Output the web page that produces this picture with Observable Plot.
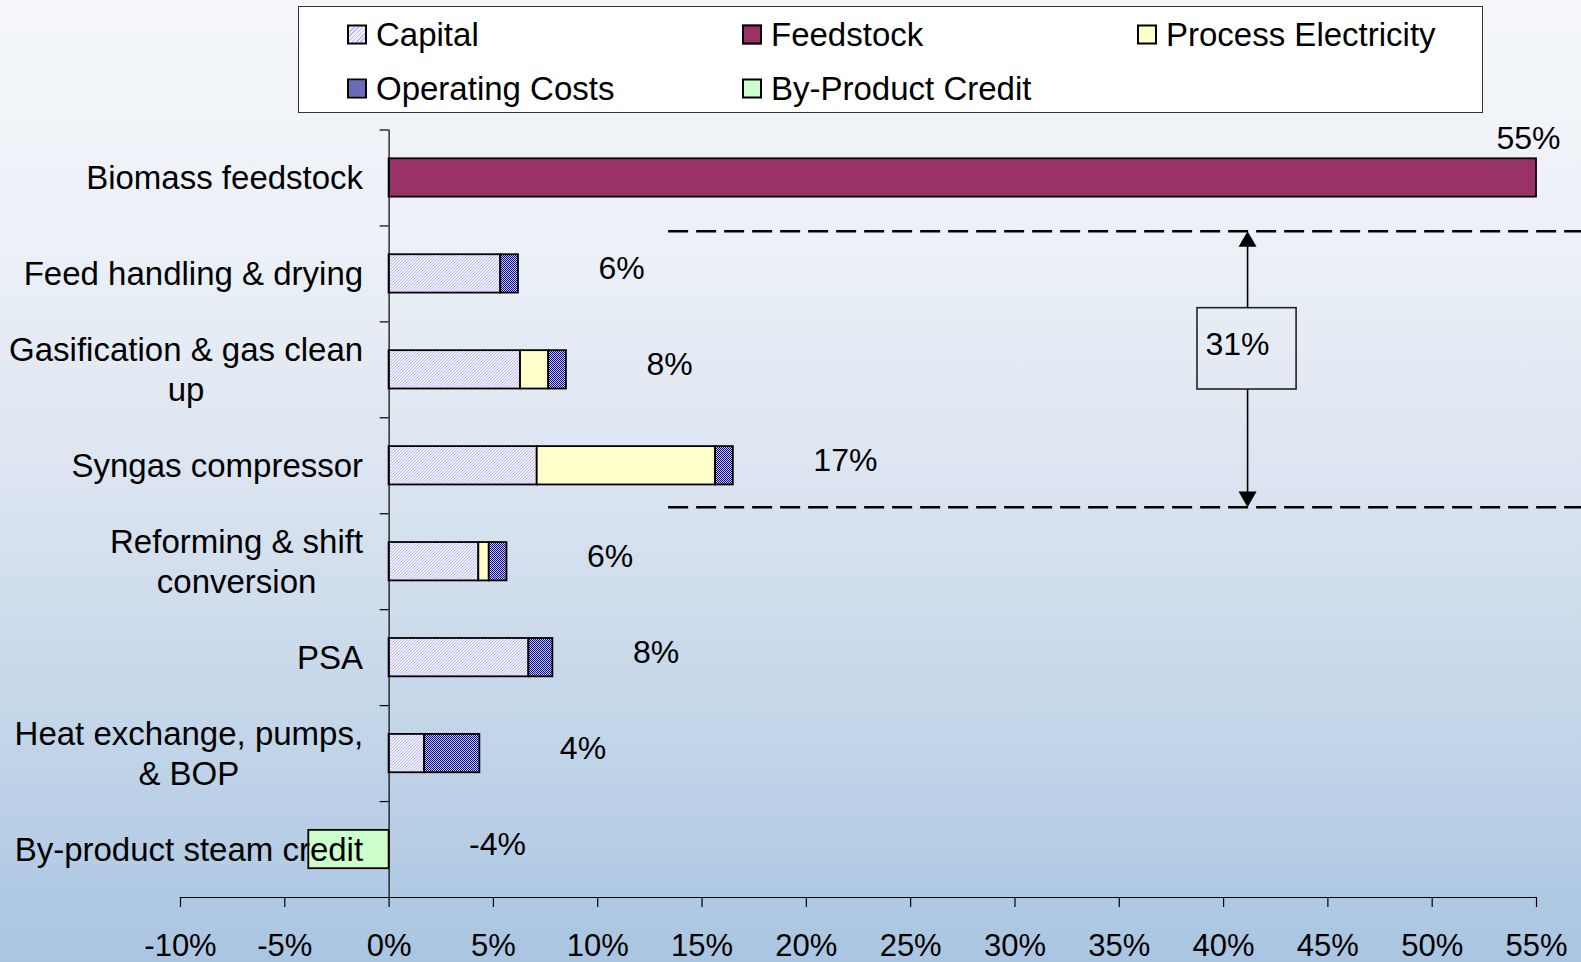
<!DOCTYPE html>
<html><head><meta charset="utf-8">
<script src="https://cdn.jsdelivr.net/npm/d3@7"></script>
<script src="https://cdn.jsdelivr.net/npm/@observablehq/plot@0.6"></script>
<style>
html,body{margin:0;padding:0;}
body{width:1581px;height:962px;overflow:hidden;background:linear-gradient(to bottom,#f4f6fa 0%,#ecf1f7 25%,#dbe4f0 50%,#c4d6e9 75%,#a9c5e1 100%);font-family:"Liberation Sans",Arial,sans-serif;}
#wrap{position:relative;width:1581px;height:962px;}
#chart{position:absolute;left:0;top:0;}
#legend{position:absolute;left:298px;top:6px;width:1185px;height:107px;background:#fff;border:1.5px solid #333;box-sizing:border-box;}
.item{position:absolute;display:flex;align-items:center;font-size:33px;line-height:1;transform:translateY(-50%);white-space:nowrap;color:#000;}
.sw{width:20px;height:20px;border:2px solid #000;margin-right:9px;box-sizing:border-box;}
</style></head><body>
<div id="wrap"><div id="chart"></div><div id="legend"></div></div>
<script>
// ---- data ----
const categories = ["Biomass feedstock", "Feed handling & drying", "Gasification & gas clean up", "Syngas compressor", "Reforming & shift conversion", "PSA", "Heat exchange, pumps, & BOP", "By-product steam credit"];
const categoryLabels = ["Biomass feedstock", "Feed handling & drying", "Gasification & gas clean\nup", "Syngas compressor", "Reforming & shift\nconversion", "PSA", "Heat exchange, pumps,\n& BOP", "By-product steam credit"];
const seriesNames = ["Capital", "Feedstock", "Process Electricity", "Operating Costs", "By-Product Credit"];
const capital     = [0, 5.35, 6.3, 7.1, 4.3, 6.7, 1.7, 0];
const feedstock   = [55, 0, 0, 0, 0, 0, 0, 0];
const electricity = [0, 0, 1.35, 8.55, 0.5, 0, 0, 0];
const operating   = [0, 0.85, 0.85, 0.85, 0.85, 1.15, 2.65, 0];
const credit      = [0, 0, 0, 0, 0, 0, 0, -3.85];
const shareLabels = ["55%", "6%", "8%", "17%", "6%", "8%", "4%", "-4%"];
const xTicks = [-10, -5, 0, 5, 10, 15, 20, 25, 30, 35, 40, 45, 50, 55];
const bracketShare = "31%";
const bracketX = 41.15;            // arrow position (% axis)
const bracketBox = [38.75, 43.5];  // box extent (% axis)
const bracketLine = [13.4, 57.3];  // dashed line extent (% axis)

// ---- layout / styles ----
const W = 1581, H = 962;
const mTop = 129.5, mBottom = 65, mLeft = 180, mRight = 45;
const bw = (H - mTop - mBottom) / categories.length;
const font = "'Liberation Sans', Arial, sans-serif";
const seriesFill = ["url(#capPat)", "#993366", "#ffffcc", "url(#opPat)", "#ccffcc"];
const seriesCss = [
  "repeating-linear-gradient(-45deg,#b8b8f4 0 1px,#f0f0ff 1px 3px)",
  "#993366", "#ffffcc",
  "conic-gradient(#0c0c80 25%,#c8c8fa 0 50%,#0c0c80 0 75%,#c8c8fa 0) 0 0/2px 2px",
  "#ccffcc"];

const rows = [];
const seriesValues = [capital, feedstock, electricity, operating, credit];
categories.forEach((c, i) => seriesNames.forEach((s, j) => {
  const v = seriesValues[j][i];
  if (v) rows.push({category: c, series: s, value: v});
}));
const totals = categories.map((c, i) => ({
  category: c,
  end: Math.max(0, capital[i] + feedstock[i] + electricity[i] + operating[i]),
  label: shareLabels[i]
}));

const ctx = document.createElement("canvas").getContext("2d");
ctx.font = "33px 'Liberation Sans'";
const labelWidth = (s) => Math.max(...s.split("\n").map(l => ctx.measureText(l).width));

const labelMarks = categories.map((c, i) => Plot.text([c], {
  x: () => 0, y: d => d, text: () => categoryLabels[i],
  textAnchor: "middle", dx: -(26 + labelWidth(categoryLabels[i]) / 2), dy: -1.5,
  lineHeight: 1.22, fontSize: 33, fill: "#000"
}));

const chart = Plot.plot({
  width: W, height: H,
  marginTop: mTop, marginBottom: mBottom, marginLeft: mLeft, marginRight: mRight,
  style: {background: "transparent", fontFamily: font, fontSize: "31px", color: "#000", overflow: "visible"},
  x: {domain: [-10, 55]},
  y: {domain: categories, padding: 0, round: false, axis: null},
  color: {domain: seriesNames, range: seriesFill},
  marks: [
    Plot.barX(rows, Plot.stackX({
      y: "category", x: "value", fill: "series", order: seriesNames,
      stroke: "#000", strokeWidth: 1.8, insetTop: 28.8, insetBottom: 28.8
    })),
    Plot.ruleX([0], {stroke: "#000", strokeWidth: 1.2}),
    Plot.ruleY(categories, {y: d => d, x1: () => 0, x2: () => 0, insetLeft: -9, dy: -bw / 2, stroke: "#000", strokeWidth: 1.2}),
    Plot.frame({anchor: "bottom", stroke: "#000", strokeWidth: 1.2}),
    Plot.axisX({ticks: xTicks, tickFormat: d => d + "%", tickSize: 10, tickPadding: 26, fontSize: 31, label: null, stroke: "#000", strokeWidth: 1.2}),
    ...labelMarks,
    Plot.text(totals.slice(1), {x: "end", y: "category", text: "label", textAnchor: "start", dx: 80, dy: -5, fontSize: 32, fill: "#000"}),
    Plot.text(totals.slice(0, 1), {x: "end", y: "category", text: "label", textAnchor: "end", dx: 24, dy: -39, fontSize: 32, fill: "#000"}),
    // bracket annotation
    Plot.ruleY([categories[1]], {y: d => d, x1: () => bracketLine[0], x2: () => bracketLine[1], dy: -42.7, stroke: "#000", strokeWidth: 2.5, strokeDasharray: "20,8"}),
    Plot.ruleY([categories[3]], {y: d => d, x1: () => bracketLine[0], x2: () => bracketLine[1], dy: 41.4, stroke: "#000", strokeWidth: 2.5, strokeDasharray: "20,8"}),
    Plot.ruleX([bracketX], {x: d => d, y1: () => categories[1], y2: () => categories[1], insetTop: 14.6, insetBottom: 13.7, stroke: "#000", strokeWidth: 1.6}),
    Plot.ruleX([bracketX], {x: d => d, y1: () => categories[3], y2: () => categories[3], insetTop: -28.3, insetBottom: 18.3, stroke: "#000", strokeWidth: 1.6}),
    Plot.barX([bracketShare], {x1: () => bracketBox[0], x2: () => bracketBox[1], y: () => categories[2], insetTop: -13.7, insetBottom: 28.3, fill: "none", stroke: "#222", strokeWidth: 1.6}),
    Plot.text([bracketShare], {x: () => bracketBox[0], y: () => categories[2], text: d => d, textAnchor: "start", dx: 8, dy: -25.3, fontSize: 32, fill: "#000"}),
    Plot.dot([bracketX], {x: d => d, y: () => categories[1], symbol: "triangle", r: 6.7, fill: "#000", stroke: "none", dy: -32.3}),
    Plot.dot([bracketX], {x: d => d, y: () => categories[3], symbol: "triangle", r: 6.7, fill: "#000", stroke: "none", dy: 31, rotate: 180})
  ]
});

// patterns for hatched series
const defs = d3.select(chart).insert("defs", ":first-child");
const cap = defs.append("pattern").attr("id", "capPat").attr("patternUnits", "userSpaceOnUse").attr("width", 3).attr("height", 3);
cap.append("rect").attr("width", 3).attr("height", 3).attr("fill", "#f0f0ff");
cap.append("path").attr("d", "M-1,1 L1,-1 M0,3 L3,0 M2,4 L4,2").attr("stroke", "#b8b8f4").attr("stroke-width", 1);
const op = defs.append("pattern").attr("id", "opPat").attr("patternUnits", "userSpaceOnUse").attr("width", 2).attr("height", 2);
op.append("rect").attr("width", 2).attr("height", 2).attr("fill", "#c8c8fa");
op.append("rect").attr("width", 1).attr("height", 1).attr("fill", "#0c0c80");
op.append("rect").attr("x", 1).attr("y", 1).attr("width", 1).attr("height", 1).attr("fill", "#0c0c80");

document.getElementById("chart").appendChild(chart);

// legend
const legendPos = [[48, 27], [443, 27], [838, 27], [48, 81], [443, 81]];
const legendOrder = ["Capital", "Feedstock", "Process Electricity", "Operating Costs", "By-Product Credit"];
const legend = document.getElementById("legend");
legendOrder.forEach((s, k) => {
  const j = seriesNames.indexOf(s);
  const it = document.createElement("div");
  it.className = "item";
  it.style.left = legendPos[k][0] + "px";
  it.style.top = legendPos[k][1] + "px";
  const sw = document.createElement("span");
  sw.className = "sw";
  sw.style.background = seriesCss[j];
  const t = document.createElement("span");
  t.textContent = s;
  it.appendChild(sw); it.appendChild(t);
  legend.appendChild(it);
});
</script>
</body></html>
